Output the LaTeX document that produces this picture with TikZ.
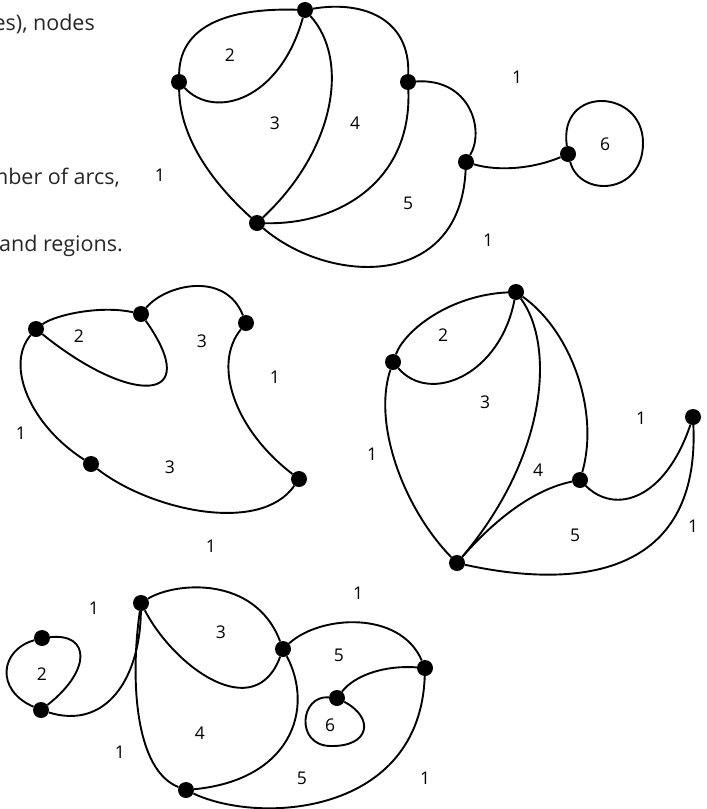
\documentclass[tikz,border=0pt]{standalone}
\usepackage{fontspec}
\setmainfont{Open Sans}
\begin{document}
\begin{tikzpicture}[x=1pt,y=-1pt,
  vtx/.style={circle, fill=black, inner sep=0pt, minimum size=16pt},
  arc/.style={line width=1.9pt},
  lbl/.style={font=\fontsize{17.5}{20}\selectfont, inner sep=0pt},
  body/.style={font=\fontsize{21.5}{25}\selectfont, inner sep=0pt, anchor=base east, text=black!85}]
\useasboundingbox (0,0) rectangle (707,809);

% clipped text at the left edge
\node[body] (t1) at (95,30) {es), nodes};
\node[body] (t2) at (120,184) {mber of arcs,};
\node[body] (t3) at (123,251) {and regions.};

% ---------- graph 1 ----------
\node[vtx] (a1) at (305,10) {};
\node[vtx] (b1) at (179,82) {};
\node[vtx] (c1) at (408,82) {};
\node[vtx] (d1) at (257,223) {};
\node[vtx] (e1) at (466,162) {};
\node[vtx] (f1) at (568,154) {};
\coordinate (f1r) at (643,143);
\draw[arc] (b1) .. controls (180,20) and (240,8) .. (a1);
\draw[arc] (b1) .. controls (215,120) and (280,100) .. (a1);
\draw[arc] (b1) .. controls (180,140) and (215,185) .. (d1);
\draw[arc] (a1) .. controls (350,60) and (335,150) .. (d1);
\draw[arc] (a1) .. controls (365,0) and (410,20) .. (c1);
\draw[arc] (c1) .. controls (412,180) and (340,225) .. (d1);
\draw[arc] (c1) .. controls (470,78) and (485,130) .. (e1);
\draw[arc] (d1) .. controls (330,285) and (460,290) .. (e1);
\draw[arc] (e1) .. controls (500,172) and (535,168) .. (f1);
\draw[arc] (f1) .. controls (558,85) and (643,88) .. (f1r) .. controls (643,195) and (580,198) .. (f1);
\node[lbl] (g1l2) at (230,55) {2};
\node[lbl] (g1l3) at (275,123) {3};
\node[lbl] (g1l4) at (355,123) {4};
\node[lbl] (g1l5) at (408,203) {5};
\node[lbl] (g1l6) at (605,144) {6};
\node[lbl] (g1la) at (517,77) {1};
\node[lbl] (g1lb) at (488,240) {1};
\node[lbl] (g1lc) at (160,175) {1};

% ---------- graph 2 ----------
\node[vtx] (p1) at (36,329) {};
\node[vtx] (p2) at (141,314) {};
\node[vtx] (p3) at (246,323) {};
\node[vtx] (p4) at (91,464) {};
\node[vtx] (p5) at (299,479) {};
\draw[arc] (p1) .. controls (55,315) and (100,305) .. (p2);
\draw[arc] (p1) .. controls (130,405) and (205,405) .. (p2);
\draw[arc] (p2) .. controls (165,285) and (225,270) .. (p3);
\draw[arc] (p3) .. controls (212,365) and (235,430) .. (p5);
\draw[arc] (p1) .. controls (5,365) and (30,425) .. (p4);
\draw[arc] (p4) .. controls (150,510) and (260,535) .. (p5);
\node[lbl] (g2l2) at (79,336) {2};
\node[lbl] (g2l3a) at (202,341) {3};
\node[lbl] (g2l3b) at (170,467) {3};
\node[lbl] (g2la) at (275,377) {1};
\node[lbl] (g2lb) at (21,433) {1};
\node[lbl] (g2lc) at (211,546) {1};

% ---------- graph 3 ----------
\node[vtx] (q1) at (516,292) {};
\node[vtx] (q2) at (393,362) {};
\node[vtx] (q3) at (580,480) {};
\node[vtx] (q4) at (693,417) {};
\node[vtx] (q5) at (457,563) {};
\draw[arc] (q2) .. controls (405,330) and (450,295) .. (q1);
\draw[arc] (q2) .. controls (430,405) and (500,375) .. (q1);
\draw[arc] (q2) .. controls (372,425) and (405,510) .. (q5);
\draw[arc] (q1) .. controls (555,345) and (548,455) .. (q5);
\draw[arc] (q1) .. controls (570,330) and (600,410) .. (q3);
\draw[arc] (q5) .. controls (490,525) and (530,490) .. (q3);
\draw[arc] (q3) .. controls (615,515) and (665,500) .. (q4);
\draw[arc] (q5) .. controls (580,590) and (700,575) .. (q4);
\node[lbl] (g3l2) at (443,335) {2};
\node[lbl] (g3l3) at (485,402) {3};
\node[lbl] (g3l4) at (538,470) {4};
\node[lbl] (g3l5) at (575,535) {5};
\node[lbl] (g3la) at (372,454) {1};
\node[lbl] (g3lb) at (641,418) {1};
\node[lbl] (g3lc) at (693,526) {1};

% ---------- graph 4 ----------
\node[vtx] (r1) at (42,638) {};
\node[vtx] (r2) at (41,710) {};
\node[vtx] (r3) at (141,603) {};
\node[vtx] (r4) at (283,649) {};
\node[vtx] (r5) at (425,668) {};
\node[vtx] (r6) at (337,698) {};
\node[vtx] (r7) at (186,790) {};
\coordinate (r6b) at (330,746);
\draw[arc] (r1) .. controls (0,650) and (-5,690) .. (r2);
\draw[arc] (r1) .. controls (90,633) and (92,670) .. (r2);
\draw[arc] (r2) .. controls (105,730) and (140,680) .. (r3);
\draw[arc] (r3) .. controls (175,582) and (255,575) .. (r4);
\draw[arc] (r3) .. controls (175,668) and (255,725) .. (r4);
\draw[arc] (r3) .. controls (130,680) and (135,770) .. (r7);
\draw[arc] (r4) .. controls (315,710) and (290,780) .. (r7);
\draw[arc] (r4) .. controls (320,615) and (400,610) .. (r5);
\draw[arc] (r5) .. controls (385,665) and (355,675) .. (r6);
\draw[arc] (r6) .. controls (300,695) and (295,745) .. (r6b) .. controls (370,747) and (375,718) .. (r6);
\draw[arc] (r7) .. controls (260,825) and (420,815) .. (r5);
\node[lbl] (g4l2) at (42,674) {2};
\node[lbl] (g4l3) at (221,632) {3};
\node[lbl] (g4l4) at (200,733) {4};
\node[lbl] (g4l5a) at (339,655) {5};
\node[lbl] (g4l5b) at (302,778) {5};
\node[lbl] (g4l6) at (330,725) {6};
\node[lbl] (g4la) at (94,608) {1};
\node[lbl] (g4lb) at (358,593) {1};
\node[lbl] (g4lc) at (120,752) {1};
\node[lbl] (g4ld) at (425,778) {1};
\end{tikzpicture}
\end{document}
